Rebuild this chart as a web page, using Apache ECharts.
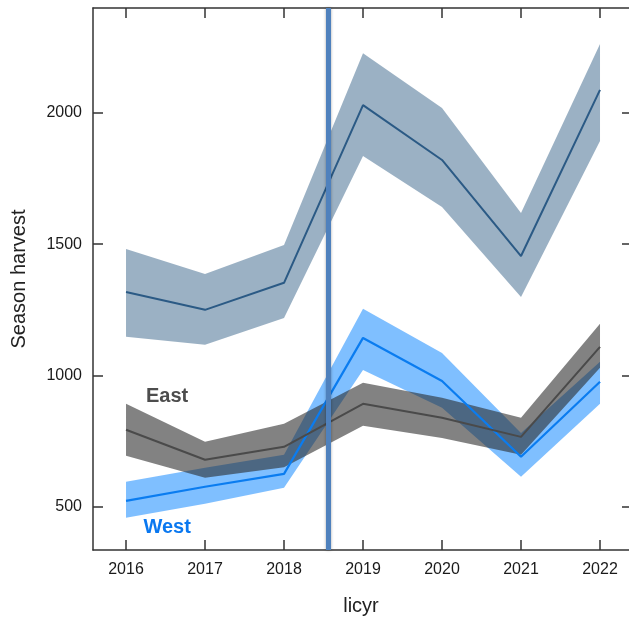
<!DOCTYPE html>
<html>
<head>
<meta charset="utf-8">
<script src="https://cdn.jsdelivr.net/npm/echarts@6/dist/echarts.min.js"></script>
<style>html,body{margin:0;padding:0;background:#fff}#c{width:629px;height:622px}</style>
</head>
<body>
<div id="c"></div>
<script>
const years = [2016, 2017, 2018, 2019, 2020, 2021, 2022];
const yTicks = [500, 1000, 1500, 2000];
// Total (top band)
const totalMean  = [1318, 1250, 1353, 2030, 1821, 1455, 2088];
const totalUpper = [1482, 1387, 1497, 2228, 2019, 1619, 2263];
const totalLower = [1147, 1117, 1219, 1836, 1642, 1299, 1893];
// East
const eastMean  = [793, 679, 728, 892, 839, 766, 1109];
const eastUpper = [892, 747, 816, 972, 915, 839, 1197];
const eastLower = [694, 610, 650, 808, 762, 698, 1029];
// West
const westMean  = [522, 576, 625, 1143, 979, 690, 976];
const westUpper = [595, 648, 698, 1254, 1086, 781, 1052];
const westLower = [458, 511, 572, 1021, 877, 614, 892];
const breakYear = 2018.56;
const labelEast = {name: 'East', x: 2016.52, y: 918};
const labelWest = {name: 'West', x: 2016.52, y: 420};

const chart = echarts.init(document.getElementById('c'));
const font = '"Liberation Sans", Arial, sans-serif';
const xMin = 2015.582, xMax = 2022.367;

function band(upper, lower, color) {
  return {
    type: 'custom',
    silent: true,
    data: [0],
    renderItem: function (params, api) {
      const pts = [];
      for (let i = 0; i < years.length; i++) pts.push(api.coord([years[i], upper[i]]));
      for (let i = years.length - 1; i >= 0; i--) pts.push(api.coord([years[i], lower[i]]));
      return {type: 'polygon', shape: {points: pts}, style: {fill: color}};
    }
  };
}
function line(vals, color, width) {
  return {
    type: 'line', silent: true, symbol: 'none',
    data: years.map((y, i) => [y, vals[i]]),
    lineStyle: {color: color, width: width}
  };
}
const axisLine = {show: true, onZero: false, lineStyle: {color: '#333', width: 1.5}};
const tick = (vals, len) => ({show: true, inside: true, length: len, customValues: vals, lineStyle: {color: '#333', width: 1.5}});

chart.setOption({
  animation: false,
  backgroundColor: '#fff',
  grid: {left: 93, top: 8, right: 0, bottom: 72, containLabel: false},
  xAxis: [
    {
      type: 'value', min: xMin, max: xMax, position: 'bottom',
      axisLine: axisLine, axisTick: tick(years, 10), splitLine: {show: false},
      axisLabel: {customValues: years, color: '#1a1a1a', fontSize: 16, fontFamily: font, margin: 12, formatter: v => String(v)},
      name: 'licyr', nameLocation: 'middle', nameGap: 46,
      nameTextStyle: {color: '#222', fontSize: 20, fontFamily: font}
    },
    {
      type: 'value', min: xMin, max: xMax, position: 'top',
      axisLine: axisLine, axisTick: tick(years, 10), splitLine: {show: false},
      axisLabel: {show: false}
    }
  ],
  yAxis: [
    {
      type: 'value', min: 335, max: 2400, position: 'left',
      axisLine: axisLine, axisTick: tick(yTicks, 10), splitLine: {show: false},
      axisLabel: {customValues: yTicks, color: '#1a1a1a', fontSize: 16, fontFamily: font, margin: 11, formatter: v => String(v)},
      name: 'Season harvest', nameLocation: 'middle', nameGap: 64, nameRotate: 90,
      nameTextStyle: {color: '#222', fontSize: 20, fontFamily: font}
    },
    {
      type: 'value', min: 335, max: 2400, position: 'right',
      axisLine: {show: false}, axisTick: tick(yTicks, 7), splitLine: {show: false},
      axisLabel: {show: false}
    }
  ],
  series: [
    band(totalUpper, totalLower, 'rgba(55,99,137,0.5)'),
    line(totalMean, '#2b5a85', 2),
    band(westUpper, westLower, 'rgba(0,128,255,0.5)'),
    line(westMean, '#0a7cf0', 2.2),
    band(eastUpper, eastLower, 'rgba(40,40,40,0.58)'),
    Object.assign(line(eastMean, '#4a4a4a', 2), {
      markLine: {
        silent: true, symbol: 'none', label: {show: false},
        lineStyle: {color: '#4f81bd', width: 5, type: 'solid', shadowBlur: 3, shadowColor: 'rgba(0,0,0,0.35)'},
        data: [{xAxis: breakYear}]
      }
    }),
    {
      type: 'scatter', silent: true, symbolSize: 0,
      itemStyle: {opacity: 1},
      data: [
        {value: [labelEast.x, labelEast.y], name: labelEast.name, label: {color: '#4d4d4d'}},
        {value: [labelWest.x, labelWest.y], name: labelWest.name, label: {color: '#0a78f0'}}
      ],
      label: {show: true, position: 'inside', formatter: p => p.name, fontSize: 20, fontWeight: 'bold', fontFamily: font}
    }
  ]
});
</script>
</body>
</html>
